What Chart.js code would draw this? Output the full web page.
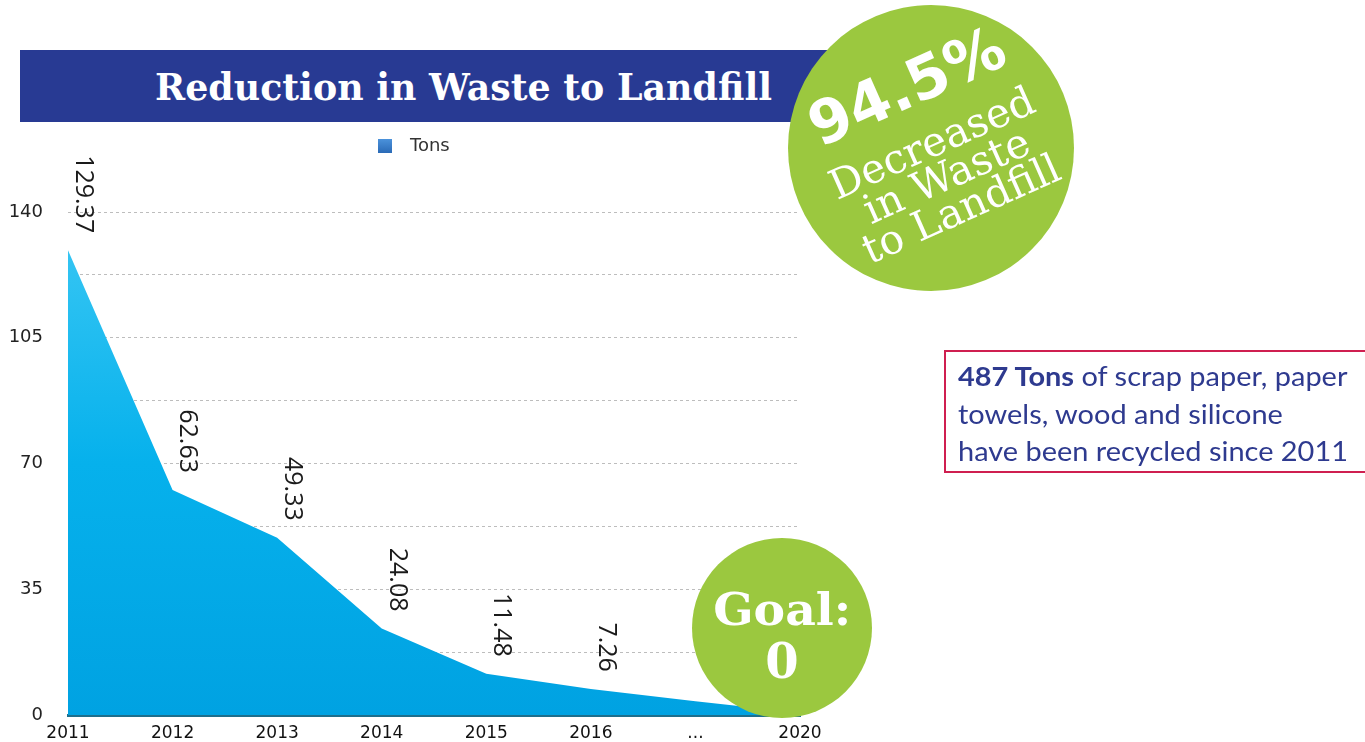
<!DOCTYPE html>
<html>
<head>
<meta charset="utf-8">
<script src="https://cdn.jsdelivr.net/npm/chart.js@4.4.1/dist/chart.umd.min.js"></script>
<style>
  html, body { margin:0; padding:0; background:#fff; }
  body { width:1365px; height:742px; overflow:hidden; position:relative; }
  #c { position:absolute; left:0; top:0; }
  .abs { position:absolute; white-space:nowrap; }
  #titlebar { left:20px; top:50px; width:815px; height:72px; background:#283a93; }
  #title { left:155px; top:68px; font-family:"DejaVu Serif"; font-weight:bold; font-size:38px; line-height:38px; color:#fff; transform-origin:0 50%; }
  #legendBox { left:378px; top:139px; width:14px; height:14px; background:linear-gradient(#4b92db,#2a6ab6); }
  #legendText { left:410px; top:134px; font-family:"DejaVu Sans"; font-size:18px; line-height:22px; color:#333; }
  #bigCircle { left:788px; top:5px; width:286px; height:286px; border-radius:50%; background:#9bc83f; }
  #rot { left:935px; top:150px; width:0; height:0; transform:rotate(-24deg); }
  .rl { position:absolute; left:-250px; width:500px; text-align:center; color:#fff; white-space:nowrap; }
  #pct { font-family:"DejaVu Sans"; font-weight:bold; font-size:60px; line-height:60px; }
  .slab { font-family:"DejaVu Serif"; font-size:41px; line-height:41px; }
  #goalCircle { left:692px; top:538px; width:180px; height:180px; border-radius:50%; background:#9bc83f; }
  .goal { position:absolute; left:692px; width:180px; text-align:center; color:#fff; font-family:"DejaVu Serif"; font-weight:bold; }
  #infobox { left:944px; top:350px; width:440px; height:119px; border:2px solid #cf1f50; box-sizing:content-box; }
  #infotext { left:958px; top:358px; font-family:Lato; font-size:26px; line-height:37.5px; color:#2e3a8f; transform-origin:0 0; }
</style>
</head>
<body>
<canvas id="c" width="1365" height="742"></canvas>
<div class="abs" id="titlebar"></div>
<div class="abs" id="title">Reduction in Waste to Landfill</div>
<div class="abs" id="legendBox"></div>
<div class="abs" id="legendText">Tons</div>
<div class="abs" id="bigCircle"></div>
<div class="abs" id="rot">
  <div class="rl" id="pct" style="top:-100px;">94.5%</div>
  <div class="rl slab" style="top:-28px;">Decreased</div>
  <div class="rl slab" style="top:8px;">in Waste</div>
  <div class="rl slab" style="top:44px;">to Landfill</div>
</div>
<div class="abs" id="goalCircle"></div>
<div class="goal" style="top:589px;font-size:44px;line-height:42px;"><span id="goal1" style="display:inline-block;">Goal:</span></div>
<div class="goal" style="top:638px;font-size:48px;line-height:46px;">0</div>
<div class="abs" id="infobox"></div>
<div class="abs" id="infotext"><b>487 Tons</b> of scrap paper, paper<br>towels, wood and silicone<br>have been recycled since 2011</div>

<script>
// ---- data ----
const categories = ['2011', '2012', '2013', '2014', '2015', '2016', '...', '2020'];
const tons = [129.37, 62.63, 49.33, 24.08, 11.48, 7.26, 3.8, 0.6];
const showValueLabel = [true, true, true, true, true, true, false, false];
const seriesName = 'Tons';
const yMin = 0;
const yMax = 140;
const yGridStep = 17.5;
const yLabelStep = 35;

// ---- fit some texts to measured widths ----
function fitWidth(el, target) {
  const w = el.getBoundingClientRect().width;
  if (w > 0) el.style.transform = 'scaleX(' + (target / w) + ')';
}
fitWidth(document.getElementById('title'), 617);
fitWidth(document.getElementById('infotext'), 390);
fitWidth(document.getElementById('goal1'), 138);

// ---- value label plugin ----
const valueLabels = {
  id: 'valueLabels',
  afterDatasetsDraw(chart) {
    const ctx = chart.ctx;
    const meta = chart.getDatasetMeta(0);
    ctx.save();
    ctx.font = '25px "Open Sans"';
    ctx.fillStyle = '#1a1a1a';
    ctx.textAlign = 'right';
    ctx.textBaseline = 'middle';
    meta.data.forEach((pt, i) => {
      if (!showValueLabel[i]) return;
      ctx.save();
      ctx.translate(pt.x + 15, pt.y - 17);
      ctx.rotate(Math.PI / 2);
      ctx.fillText(tons[i].toFixed(2), 0, 0);
      ctx.restore();
    });
    ctx.restore();
  }
};

new Chart(document.getElementById('c'), {
  type: 'line',
  data: {
    labels: categories,
    datasets: [{
      label: seriesName,
      data: tons,
      fill: 'origin',
      borderWidth: 0,
      pointRadius: 0,
      tension: 0,
      backgroundColor: (c) => {
        const ca = c.chart.chartArea;
        if (!ca) return '#00aeef';
        const g = c.chart.ctx.createLinearGradient(0, ca.top, 0, ca.bottom);
        g.addColorStop(0, '#3cc8f4');
        g.addColorStop(0.5, '#06b1ec');
        g.addColorStop(1, '#00a2e2');
        return g;
      }
    }]
  },
  options: {
    responsive: false,
    animation: false,
    layout: { padding: { left: 0, right: 565, top: 212, bottom: 0 } },
    plugins: { legend: { display: false }, tooltip: { enabled: false } },
    scales: {
      x: {
        z: 1,
        grid: { display: false, drawTicks: false },
        border: { display: true, color: '#1e6f8c', width: 3 },
        ticks: { font: { family: 'DejaVu Sans', size: 17 }, color: '#111', padding: 8, maxRotation: 0, autoSkip: false },
        afterFit(s) { s.height = 27; }
      },
      y: {
        min: yMin,
        max: yMax,
        grid: { color: '#bdbdbd', drawTicks: false, lineWidth: 1 },
        border: { display: false, dash: [3, 3] },
        ticks: {
          stepSize: yGridStep,
          font: { family: 'DejaVu Sans', size: 18 },
          color: '#222',
          padding: 25,
          callback: (v) => (Math.abs(v % yLabelStep) < 1e-6 ? String(v) : '')
        },
        afterFit(s) { s.width = 68; s.paddingTop = 0; s.paddingBottom = 0; }
      }
    }
  },
  plugins: [valueLabels]
});
</script>
</body>
</html>
